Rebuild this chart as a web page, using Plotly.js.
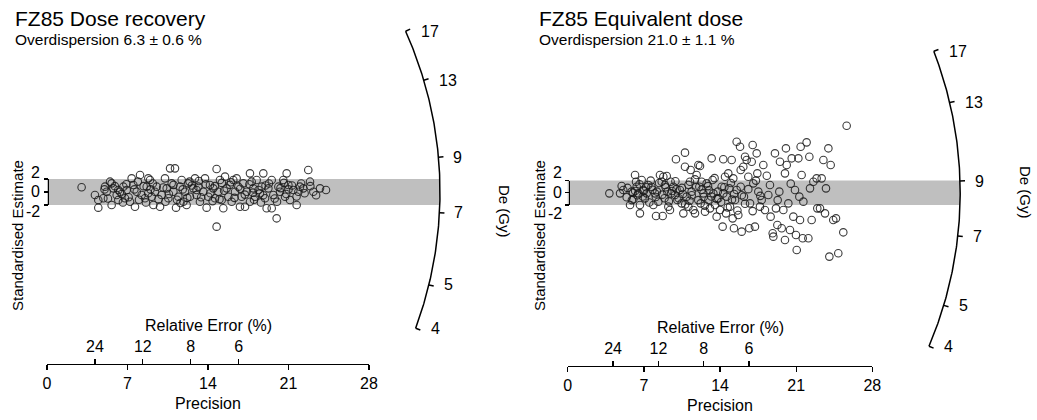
<!DOCTYPE html>
<html><head><meta charset="utf-8">
<script src="https://cdn.plot.ly/plotly-3.0.1.min.js"></script>
<style>html,body{margin:0;padding:0;background:#fff}#chart{width:1037px;height:420px}</style>
</head><body><div id="chart"></div>
<script>
const W = 1037, H = 420;
const FONT = 'Liberation Sans, Arial, Helvetica, sans-serif';

// ---------- data ----------
const precisionTicks = [0, 7, 14, 21, 28];
const relErrorTicks = [24, 12, 8, 6];          // %
const deTicks = [4, 5, 7, 9, 13, 17];          // Gy
const zTicks = [-2, 0, 2];
const panelTitles = ['FZ85 Dose recovery', 'FZ85 Equivalent dose'];
const overdispersion = [6.3, 21.0];
const overdispersionErr = [0.6, 1.1];
const centralDe = [7.69, 8.53];

const doseRecoveryPrecision = [3.01,4.17,4.46,4.46,4.90,5.04,5.19,5.48,5.62,5.62,5.77,6.06,6.20,6.35,6.64,6.78,6.93,7.22,7.36,7.51,7.65,7.80,8.09,8.23,8.52,8.67,8.81,8.96,9.10,9.25,9.39,9.54,9.83,9.97,10.26,10.41,10.55,10.70,10.84,10.99,11.13,11.22,11.42,11.57,11.71,11.86,12.0,12.14,12.29,12.43,12.72,12.87,13.01,13.16,13.30,13.59,13.74,13.88,14.03,14.17,14.46,14.61,14.75,14.75,14.90,15.04,15.19,15.33,15.48,15.62,15.77,16.06,16.20,16.35,16.49,16.64,16.78,16.93,17.07,17.22,17.36,17.65,17.65,17.80,17.94,18.09,18.23,18.52,18.67,18.81,18.96,19.10,19.25,19.54,19.54,19.68,19.97,20.12,20.26,20.55,20.70,20.84,20.99,21.13,21.42,21.71,21.86,22.0,22.29,22.72,22.87,23.16,23.74,24.26,
5.3,5.9,6.5,6.9,7.1,7.6,8.0,8.4,8.8,9.2,9.7,10.1,10.6,11.0,11.3,11.8,12.2,12.6,13.0,13.4,13.8,14.2,14.6,15.0,15.4,15.9,16.3,16.8,17.2,17.6,18.0,18.4,18.8,19.3,19.8,20.3,20.8,21.3,21.7,22.4,22.9,23.4,6.2,7.9,9.0,10.3,12.4,14.4,16.0,17.9,19.0,20.0,21.0,22.1,5.0,6.6,8.6,11.6,13.2,15.2,18.6,20.6];
const doseRecoveryZ = [0.72,-0.46,-1.23,-2.41,-0.97,0.82,0.05,1.59,1.33,-2.0,0.56,-0.46,-1.23,0.05,0.82,-0.97,0.31,-1.49,2.10,1.08,-2.26,0.05,2.62,-0.46,-0.97,0.82,2.10,1.85,-0.72,-2.0,0.05,0.82,-2.26,-0.46,2.10,0.56,-0.97,3.64,1.33,0.05,3.64,-2.41,-0.72,0.82,1.85,-1.49,0.05,-2.0,1.33,-0.72,0.56,2.10,-0.46,0.82,-1.49,0.05,2.10,-2.41,-0.72,1.08,0.56,-0.97,3.54,-5.33,0.05,1.85,-1.23,-2.51,2.36,0.56,-0.72,-1.49,1.85,0.05,2.10,0.82,-2.26,-0.72,1.33,-2.26,0.05,2.87,-1.49,1.59,0.56,-0.72,1.85,-0.21,0.82,2.87,-0.97,-2.51,0.56,1.85,-2.51,-0.46,-4.05,0.82,0.05,1.85,-0.72,2.87,1.08,-1.23,0.31,-2.0,0.05,0.82,0.56,3.38,1.59,0.05,0.56,0.31,
-1.0,0.9,-0.3,1.2,-0.8,0.4,-1.2,0.9,-0.2,1.3,-1.1,0.7,-0.3,1.1,-1.2,0.4,-0.9,1.0,0.3,-0.8,1.2,-0.2,0.9,-1.1,0.2,1.1,-0.9,0.5,-0.4,1.2,-1.2,0.3,-0.5,1.3,-1.0,0.6,-0.3,1.0,-0.7,-0.2,0.9,-0.5,0.3,1.6,0.4,-1.5,1.6,-1.4,1.5,-0.1,1.0,-1.5,0.4,1.3,0.4,-1.6,-1.6,-1.7,1.7,1.4,-1.6,1.4];

const equivDosePrecision = [3.83,4.96,4.81,5.11,5.42,5.73,5.88,6.03,6.19,6.28,6.34,6.49,6.64,6.64,6.80,6.95,7.10,7.26,7.41,7.63,7.87,8.02,8.12,8.33,8.48,8.64,8.73,8.79,8.94,9.10,9.16,9.25,9.40,9.46,9.71,9.86,9.95,10.08,10.32,10.47,10.63,10.78,10.78,10.93,11.09,11.24,11.30,11.39,11.55,11.70,11.85,12.01,12.10,12.16,12.22,12.31,12.47,12.62,12.77,12.93,13.08,13.23,13.32,13.39,13.54,13.69,13.84,14.00,14.15,14.24,14.30,14.46,14.55,14.61,14.76,14.86,14.92,15.07,15.16,15.22,15.28,15.38,15.53,15.53,15.68,15.84,15.90,15.99,16.14,16.20,16.30,16.45,16.60,16.69,16.76,16.91,17.00,17.06,17.21,17.37,17.43,17.52,17.67,17.83,17.98,18.13,18.44,18.59,18.65,18.84,18.90,19.05,19.14,19.27,19.45,19.51,19.67,19.82,19.97,19.97,20.06,20.13,20.28,20.43,20.59,20.74,20.89,20.98,21.05,21.20,21.29,21.35,21.41,21.50,21.60,21.66,21.96,22.12,22.21,22.27,22.42,22.58,22.88,22.94,23.19,23.34,23.50,23.65,23.74,23.96,24.05,24.17,24.41,24.66,24.87,25.33,25.64,
5.5,5.9,6.2,6.6,6.9,7.2,7.5,7.8,8.1,8.4,8.7,9.0,9.3,9.6,9.9,10.2,10.5,10.8,11.1,11.4,11.7,12.0,12.3,12.6,12.9,13.2,13.5,13.8,14.1,14.4,14.7,15.0,15.3,15.6,15.9,16.3,16.6,17.0,17.3,17.7,6.0,6.4,7.0,7.7,8.2,8.9,9.5,10.0,10.6,11.2,11.8,12.5,13.0,13.7,14.3,15.1,16.0,18.3,19.3,20.5];
const equivDoseZ = [-0.09,1.11,-0.09,0.46,-0.74,-2.0,0.19,-1.07,2.92,1.82,1.0,-0.09,-3.37,-2.0,2.10,0.46,-0.91,-0.09,1.28,1.99,-2.0,-0.09,-3.80,-1.45,2.92,1.82,-3.80,2.64,1.28,2.75,0.19,-2.27,-2.82,1.82,1.0,-0.36,5.49,-1.18,0.46,-1.73,-3.37,6.58,4.28,-0.63,-2.27,1.82,3.74,0.19,-2.82,-3.37,2.92,4.56,1.0,4.39,-1.73,1.82,-0.09,-3.09,1.55,-1.18,-2.55,5.65,2.10,-0.09,-2.0,-3.91,-0.91,-2.82,1.0,-5.55,5.49,2.64,-3.37,-0.63,3.19,0.73,-2.27,5.38,-4.19,2.37,-5.82,-1.18,8.38,0.46,-3.64,7.56,3.74,-6.37,4.28,-0.63,5.92,5.38,2.64,-5.82,-1.73,5.10,7.84,1.55,-5.55,6.47,3.19,0.19,-2.27,-1.18,4.56,-2.82,-0.36,1.28,-3.91,-6.64,-7.19,6.47,-2.55,-5.28,0.19,5.10,-5.82,-2.82,3.19,-7.74,7.29,4.56,-1.73,-6.10,5.65,-3.91,0.46,-6.92,-9.38,5.65,-0.63,-4.46,7.56,2.92,-7.46,-1.45,8.27,-7.46,5.92,0.73,-4.46,1.82,2.37,-2.55,-2.55,2.37,5.38,-3.37,0.73,7.29,-10.46,4.56,-4.46,-4.19,-9.92,-6.48,11.0,
0.8,-1.2,0.3,1.4,-0.6,0.9,-1.6,0.5,-0.7,1.6,-0.3,0.9,-1.4,0.3,1.9,-0.9,0.8,-1.9,1.3,-0.4,2.2,-1.2,0.5,-2.1,1.1,-0.6,2.4,0.2,-1.5,0.9,-2.4,1.6,-0.2,-2.9,1.0,-1.8,0.6,-3.0,2.0,-0.5,0.0,-0.4,0.3,1.0,0.2,-0.9,-0.1,0.6,-0.2,-1.3,0.9,-0.7,0.4,-1.0,-0.1,-1.1,-0.4,2.8,-1.2,1.5];

const panelPrecision = [doseRecoveryPrecision, equivDosePrecision];
const panelZ = [doseRecoveryZ, equivDoseZ];

// ---------- geometry (pixel layout of each radial plot) ----------
const geo = [
  {ox: 47, oy: 192, pxx: 11.5, pxy: 6.5, R: 393, axisY: 363.5, left: 0, right: 508,
   titleX: 13, zLabX: 42, zLabStep: 9.6, yTitleX: 17, yTitleY: 236, deX: 505, deY: 211},
  {ox: 567.7, oy: 192.8, pxx: 10.88, pxy: 6.1, R: 392.5, axisY: 365.5, left: 512, right: 1037,
   titleX: 537, zLabX: 564, zLabStep: 10.3, yTitleX: 539, yTitleY: 236, deX: 1025, deY: 192}
];

const traces = [];
const annotations = [];
const layout = {
  width: W, height: H, margin: {l: 0, r: 0, t: 0, b: 0},
  paper_bgcolor: '#ffffff', plot_bgcolor: 'rgba(0,0,0,0)',
  showlegend: false, hovermode: false,
  font: {family: FONT, color: '#000', size: 16}
};
const txt = (text, x, y, opts) => Object.assign({
  text, x: x / W, y: 1 - y / H, xref: 'paper', yref: 'paper', showarrow: false,
  xanchor: 'center', yanchor: 'middle', font: {family: FONT, size: 16, color: '#000'}
}, opts || {});

geo.forEach((g, p) => {
  const xa = p ? 'x2' : 'x', ya = p ? 'y2' : 'y';
  const precN = 3 + 2 * p, reN = 4 + 2 * p, zN = 3 + p;

  layout[p ? 'xaxis2' : 'xaxis'] = {
    domain: [g.left / W, g.right / W],
    range: [(g.left - g.ox) / g.pxx, (g.right - g.ox) / g.pxx],
    visible: false, fixedrange: true, anchor: ya
  };
  layout[p ? 'yaxis2' : 'yaxis'] = {
    domain: [0, 1], range: [(g.oy - H) / g.pxy, g.oy / g.pxy],
    visible: false, fixedrange: true, anchor: xa
  };

  const axDom = [g.ox / W, (g.ox + 28 * g.pxx) / W];
  const axPos = 1 - g.axisY / H;
  const common = {
    domain: axDom, range: [0, 28], anchor: 'free', position: axPos,
    ticks: 'outside', ticklen: 5, tickwidth: 1.3, tickcolor: '#000',
    tickmode: 'array', tickfont: {family: FONT, size: 16, color: '#000'},
    showgrid: false, zeroline: false, fixedrange: true
  };
  layout['xaxis' + precN] = Object.assign({}, common, {
    side: 'bottom', showline: true, linecolor: '#000', linewidth: 1.3,
    tickvals: precisionTicks, ticktext: precisionTicks.map(String)
  });
  layout['xaxis' + reN] = Object.assign({}, common, {
    side: 'top', showline: false,
    tickvals: relErrorTicks.map(r => 100 / r), ticktext: relErrorTicks.map(String)
  });
  layout['yaxis' + zN] = {
    domain: [1 - (g.oy + 2 * g.pxy) / H, 1 - (g.oy - 2 * g.pxy) / H],
    range: [-2, 2], anchor: 'free', position: (g.ox + 1) / W, side: 'left',
    showline: true, linecolor: '#000', linewidth: 1.3,
    ticks: 'outside', ticklen: 4, tickwidth: 1.3, tickcolor: '#000',
    tickmode: 'array', tickvals: zTicks, showticklabels: false,
    showgrid: false, zeroline: false, fixedrange: true
  };
  // dummy traces so the extra axes are drawn
  traces.push({x: [null], y: [null], xaxis: 'x' + precN, yaxis: ya, type: 'scatter', hoverinfo: 'skip'});
  traces.push({x: [null], y: [null], xaxis: 'x' + reN, yaxis: ya, type: 'scatter', hoverinfo: 'skip'});
  traces.push({x: [null], y: [null], xaxis: xa, yaxis: 'y' + zN, type: 'scatter', hoverinfo: 'skip'});

  const lnC = Math.log(centralDe[p]);
  const theta = d => Math.atan((Math.log(d) - lnC) * g.pxy / g.pxx);
  const toData = (r, t) => [r * Math.cos(t) / g.pxx, r * Math.sin(t) / g.pxy];

  // 2-sigma band, clipped by the arc
  const tb = Math.asin(2 * g.pxy / g.R);
  const bx = [0, 0], by = [-2, 2];
  for (let i = 0; i <= 30; i++) {
    const t = tb - (2 * tb) * i / 30;
    const q = toData(g.R, t); bx.push(q[0]); by.push(q[1]);
  }
  bx.push(0); by.push(-2);
  traces.push({x: bx, y: by, xaxis: xa, yaxis: ya, type: 'scatter', mode: 'lines',
    fill: 'toself', fillcolor: '#bfbfbf', line: {width: 0}, hoverinfo: 'skip'});

  // De arc
  const t0 = theta(Math.min(...deTicks)), t1 = theta(Math.max(...deTicks));
  const ax = [], ay = [];
  for (let i = 0; i <= 150; i++) {
    const q = toData(g.R, t0 + (t1 - t0) * i / 150); ax.push(q[0]); ay.push(q[1]);
  }
  traces.push({x: ax, y: ay, xaxis: xa, yaxis: ya, type: 'scatter', mode: 'lines',
    line: {color: '#000', width: 1.5}, hoverinfo: 'skip'});
  const tx = [], ty = [];
  deTicks.forEach(d => {
    const t = theta(d);
    const a = toData(g.R, t), b = toData(g.R + 5, t);
    tx.push(a[0], b[0], null); ty.push(a[1], b[1], null);
    annotations.push({text: String(d), x: a[0], y: a[1], xref: xa, yref: ya, showarrow: false,
      xanchor: 'left', yanchor: 'middle', xshift: 13, font: {family: FONT, size: 16, color: '#000'}});
  });
  traces.push({x: tx, y: ty, xaxis: xa, yaxis: ya, type: 'scatter', mode: 'lines',
    line: {color: '#000', width: 1.5}, hoverinfo: 'skip'});

  // points
  traces.push({x: panelPrecision[p], y: panelZ[p], xaxis: xa, yaxis: ya, type: 'scatter', mode: 'markers',
    marker: {symbol: 'circle-open', size: 7.5, color: 'rgba(25,25,25,0.85)', line: {width: 1.1}},
    hoverinfo: 'skip', cliponaxis: false});

  // texts
  annotations.push(txt(panelTitles[p], g.titleX, 18.5, {xanchor: 'left', font: {family: FONT, size: 21, color: '#000'}}));
  annotations.push(txt('Overdispersion ' + overdispersion[p].toFixed(1) + ' \u00b1 ' + overdispersionErr[p].toFixed(1) + ' %',
    g.titleX, 39, {xanchor: 'left', font: {family: FONT, size: 15.5, color: '#000'}}));
  zTicks.forEach(z => annotations.push(txt(String(z), g.zLabX, g.oy - z * g.zLabStep, {xanchor: 'right'})));
  annotations.push(txt('Standardised Estimate', g.yTitleX, g.yTitleY, {textangle: -90, font: {family: FONT, size: 15, color: '#000'}}));
  annotations.push(txt('De (Gy)', g.deX, g.deY, {textangle: 90, font: {family: FONT, size: 15, color: '#000'}}));
  const cx = g.ox + 14 * g.pxx;
  annotations.push(txt('Relative Error (%)', cx, g.axisY - 38, {}));
  annotations.push(txt('Precision', cx, g.axisY + 40, {}));
});

layout.annotations = annotations;
Plotly.newPlot('chart', traces, layout, {staticPlot: true, displayModeBar: false});
</script>
</body></html>
